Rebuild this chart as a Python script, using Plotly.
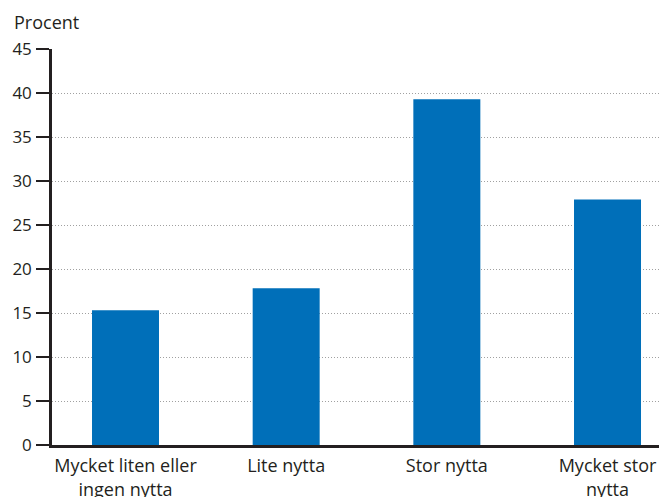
import plotly.graph_objects as go

categories = ["Mycket liten eller<br>ingen nytta", "Lite nytta", "Stor nytta", "Mycket stor<br>nytta"]
values = [15.3, 17.8, 39.3, 27.9]
y_ticks = [0, 5, 10, 15, 20, 25, 30, 35, 40, 45]

FONT = "Open Sans"
TXT = "#231f20"

fig = go.Figure()
fig.add_trace(go.Bar(
    x=categories, y=values,
    marker=dict(color="#006fb9", line=dict(width=0)),
    width=0.417,
))

fig.update_layout(
    width=659, height=497,
    margin=dict(l=52, r=0, t=49, b=52),
    plot_bgcolor="white", paper_bgcolor="white",
    showlegend=False,
    font=dict(family=FONT, size=17, color=TXT),
    xaxis=dict(
        type="category",
        range=[-0.4575, 3.3205],
        showline=True, linecolor=TXT, linewidth=2.5,
        ticks="", showgrid=False,
        tickfont=dict(family=FONT, size=18, color=TXT),
        ticklabelstandoff=3,
        automargin=False,
        fixedrange=True,
    ),
    yaxis=dict(
        range=[0, 45],
        tickvals=y_ticks,
        showline=True, linecolor=TXT, linewidth=2.5,
        ticks="outside", ticklen=13, tickwidth=2, tickcolor=TXT,
        showgrid=True, gridcolor="#a0a0a0", gridwidth=1, griddash="1px,2px",
        zeroline=False,
        automargin=False,
        tickfont=dict(family=FONT, size=17, color=TXT),
        ticklabelstandoff=1,
    ),
    annotations=[dict(
        text="Procent", xref="paper", yref="paper",
        x=-40/607, y=1 + 27/396, xanchor="left", yanchor="middle",
        showarrow=False, font=dict(family=FONT, size=18, color=TXT),
    )],
)

fig.write_html("out.html", config={"displayModeBar": False},
               post_script="document.body.style.margin='0';document.body.style.overflow='hidden';")
